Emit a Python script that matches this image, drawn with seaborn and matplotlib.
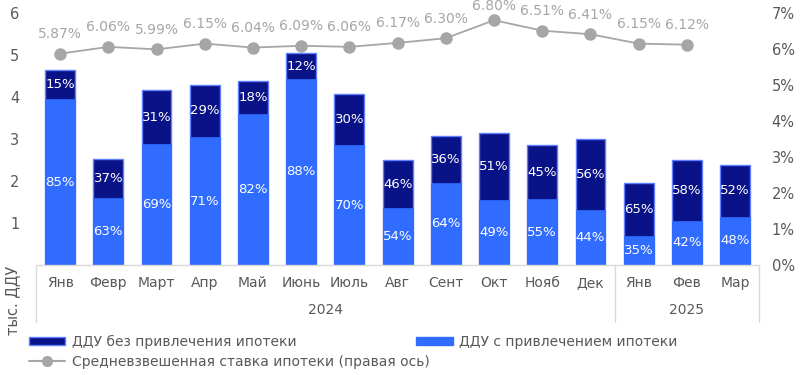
import numpy as np
import matplotlib.pyplot as plt
import pandas as pd
import seaborn as sns
from matplotlib.patches import Patch
from matplotlib.lines import Line2D

# данные
months = ['Янв', 'Февр', 'Март', 'Апр', 'Май', 'Июнь', 'Июль', 'Авг', 'Сент', 'Окт', 'Нояб', 'Дек',
          'Янв', 'Фев', 'Мар']
years = ['2024', '2025']
total = [4.64, 2.53, 4.17, 4.29, 4.38, 5.04, 4.08, 2.50, 3.06, 3.15, 2.85, 2.99, 1.95, 2.51, 2.39]
share_mortgage = [85, 63, 69, 71, 82, 88, 70, 54, 64, 49, 55, 44, 35, 42, 48]
share_no_mortgage = [15, 37, 31, 29, 18, 12, 30, 46, 36, 51, 45, 56, 65, 58, 52]
rate = [5.87, 6.06, 5.99, 6.15, 6.04, 6.09, 6.06, 6.17, 6.30, 6.80, 6.51, 6.41, 6.15, 6.12]

dark = '#0a1288'
blue = '#2f6cff'
edge = '#5f7fff'
grey = '#a6a6a6'
txt = '#595959'

sns.set_style('white')
plt.rcParams['font.family'] = ['DejaVu Sans']

pos = np.arange(len(months))
df = pd.DataFrame({'pos': pos, 'total': total,
                   'mort': [t * s / 100 for t, s in zip(total, share_mortgage)]})

fig = plt.figure(figsize=(8, 3.75), dpi=100)
ax = fig.add_axes([0.045, 0.2933, 0.904, 0.672])

sns.barplot(data=df, x='pos', y='total', native_scale=True, width=0.62, color=dark,
            edgecolor=edge, linewidth=1, saturation=1, ax=ax)
sns.barplot(data=df, x='pos', y='mort', native_scale=True, width=0.62, color=blue,
            edgecolor=blue, linewidth=0.5, saturation=1, ax=ax)

for i in pos:
    m = df['mort'][i]
    t = df['total'][i]
    ax.text(i, m / 2, f'{share_mortgage[i]}%', ha='center', va='center', color='white', fontsize=9.5)
    ax.text(i, m + (t - m) / 2, f'{share_no_mortgage[i]}%', ha='center', va='center',
            color='white', fontsize=9.5)

ax.set_xlim(-0.5, 14.5)
ax.set_ylim(0, 6)
ax.set_yticks([1, 2, 3, 4, 5, 6])
ax.set_xticks(pos)
ax.set_xticklabels(months, fontsize=10)
ax.tick_params(axis='x', length=0, pad=8, colors=txt)
ax.tick_params(axis='y', length=0, pad=12, colors=txt, labelsize=10.5)
ax.set_xlabel('')
ax.set_ylabel('')
for s in ax.spines.values():
    s.set_visible(False)

# таблица категорий под осью
line_kw = dict(color='#d9d9d9', lw=1, clip_on=False, transform=ax.get_xaxis_transform())
ax.plot([-0.5, 14.5], [0, 0], **line_kw)
for x in [-0.5, 11.5, 14.5]:
    ax.plot([x, x], [0, -0.225], **line_kw)
ax.text(5.5, -0.18, years[0], transform=ax.get_xaxis_transform(), ha='center', va='center',
        color=txt, fontsize=10)
ax.text(13, -0.18, years[1], transform=ax.get_xaxis_transform(), ha='center', va='center',
        color=txt, fontsize=10)

ax2 = ax.twinx()
sns.lineplot(x=pos[:len(rate)], y=[r / 100 for r in rate], color=grey, marker='o',
             markersize=9, markeredgewidth=0, linewidth=1.3, ax=ax2)
for i, r in enumerate(rate):
    off = 9 if r < 6.6 else 5
    ax2.annotate(f'{r:.2f}%', (i, r / 100), xytext=(0, off), textcoords='offset points',
                 ha='center', va='bottom', color=grey, fontsize=10)
ax2.set_ylim(0, 0.07)
ax2.set_yticks(np.arange(0, 0.071, 0.01))
ax2.set_yticklabels([f'{k}%' for k in range(8)])
ax2.tick_params(axis='y', length=0, pad=9, colors=txt, labelsize=10.5)
for s in ax2.spines.values():
    s.set_visible(False)

fig.text(0.016, 0.2, 'тыс. ДДУ', rotation=90, va='center', ha='center', color=txt, fontsize=10.5)

leg_kw = dict(loc='upper left', frameon=False, fontsize=10, handlelength=2.6, handleheight=0.5,
              handletextpad=0.5, labelcolor=txt)
row1 = [Patch(facecolor=dark, edgecolor=edge, label='ДДУ без привлечения ипотеки'),
        Patch(facecolor=blue, edgecolor=blue, label='ДДУ с привлечением ипотеки')]
row2 = [Line2D([], [], color=grey, marker='o', markersize=8, markeredgewidth=0,
               label='Средневзвешенная ставка ипотеки (правая ось)')]
fig.legend(handles=row1, ncol=2, bbox_to_anchor=(0.021, 0.14), columnspacing=8.6, **leg_kw)
fig.legend(handles=row2, bbox_to_anchor=(0.021, 0.087), **leg_kw)

fig.savefig('out.png', dpi=100)
